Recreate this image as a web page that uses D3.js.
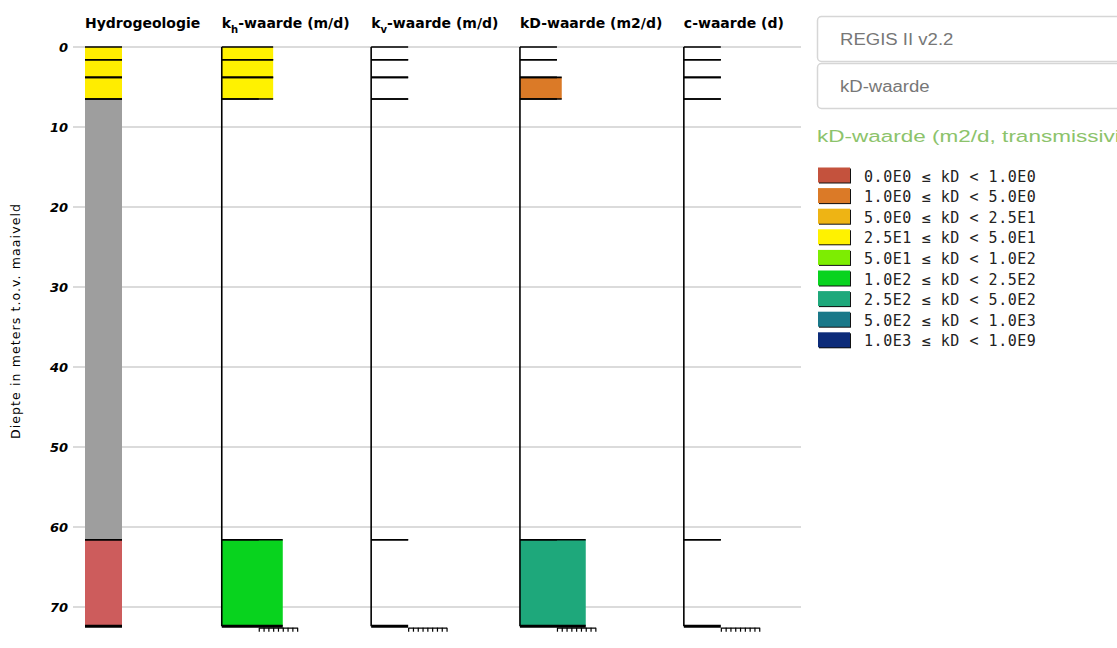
<!DOCTYPE html>
<html>
<head>
<meta charset="utf-8">
<script src="https://cdn.jsdelivr.net/npm/d3@7"></script>
<style>
  body { margin: 0; background: #fff; }
  svg { display: block; }
</style>
</head>
<body>
<svg id="chart" width="1117" height="648"></svg>
<script>
// layers, depth in m below surface
var layerTop = [0, 1.6, 3.8, 6.5, 61.6];
var layerBottom = [1.6, 3.8, 6.5, 61.6, 72.4];
var hydroUnit = ["deklaag", "deklaag", "deklaag", "onbekend", "kleilaag"];

// values per layer (null = geen waarde)
var khValues = [30, 30, 30, null, 150];
var kvValues = [null, null, null, null, null];
var kdValues = [null, null, 3, null, 300];
var cValues = [null, null, null, null, null];

var depthTicks = [0, 10, 20, 30, 40, 50, 60, 70];

// kD legend classes
var classBounds = [0, 1, 5, 25, 50, 100, 250, 500, 1000, 1e9];
var classColors = ["#c4523d", "#db7a27", "#eeb414", "#fff200", "#7ded02",
  "#08d31e", "#1ea87b", "#1a7889", "#0c2b79"];

var svg = d3.select("#chart");

var y = d3.scaleLinear().domain([0, 70]).range([47, 607]);
var bottom = d3.max(layerBottom);

var classOf = d3.scaleThreshold()
  .domain(classBounds.slice(1, -1))
  .range(d3.range(classColors.length));

var barWidth = d3.scaleLinear().domain([0, 8]).range([37, 75.4]);

var hydroColor = d3.scaleOrdinal()
  .domain(["deklaag", "onbekend", "kleilaag"])
  .range(["#ffed00", "#9e9e9e", "#cd5c5c"]);

// grid + depth axis
svg.append("g")
  .selectAll("line")
  .data(depthTicks)
  .enter()
  .append("line")
  .attr("x1", 73)
  .attr("x2", 801)
  .attr("y1", function (d) { return y(d); })
  .attr("y2", function (d) { return y(d); })
  .style("stroke", "#cfcfcf")
  .style("stroke-width", 1.5);

svg.append("g")
  .selectAll("text")
  .data(depthTicks)
  .enter()
  .append("text")
  .attr("x", 68)
  .attr("y", function (d) { return y(d); })
  .attr("dy", "0.36em")
  .style("text-anchor", "end")
  .style("font-family", "DejaVu Sans")
  .style("font-weight", "bold")
  .style("font-style", "italic")
  .style("font-size", "13px")
  .text(function (d) { return d; });

svg.append("text")
  .attr("transform", "translate(20,321) rotate(-90)")
  .style("text-anchor", "middle")
  .style("font-family", "DejaVu Sans")
  .style("font-size", "12.5px")
  .style("letter-spacing", "1.1px")
  .text("Diepte in meters t.o.v. maaiveld");

// columns
var columns = [
  { head: "Hydrogeologie", sub: null, rest: "", hydro: true },
  { head: "k", sub: "h", rest: "-waarde (m/d)", values: khValues },
  { head: "k", sub: "v", rest: "-waarde (m/d)", values: kvValues },
  { head: "kD-waarde (m2/d)", sub: null, rest: "", values: kdValues },
  { head: "c-waarde (d)", sub: null, rest: "", values: cValues }
];

var layers = layerTop.map(function (t, i) {
  return { top: t, bot: layerBottom[i], unit: hydroUnit[i], i: i };
});

var x0 = 85;
columns.forEach(function (col) {
  var g = svg.append("g").attr("transform", "translate(" + x0 + ",0)");

  var head = g.append("text")
    .attr("y", 28)
    .style("font-family", "DejaVu Sans")
    .style("font-weight", "bold")
    .style("font-size", "14px");
  head.append("tspan").text(col.head);
  if (col.sub) {
    head.append("tspan").attr("dy", 5).style("font-size", "10px").text(col.sub);
    head.append("tspan").attr("dy", -5).text(col.rest);
  }

  var w = function (d) {
    if (col.hydro) return 37;
    var v = col.values[d.i];
    return v == null ? barWidth(0) : barWidth(classOf(v));
  };

  g.selectAll("rect")
    .data(layers)
    .enter()
    .append("rect")
    .attr("x", 0)
    .attr("y", function (d) { return y(d.top); })
    .attr("width", w)
    .attr("height", function (d) { return y(d.bot) - y(d.top); })
    .style("fill", function (d) {
      if (col.hydro) return hydroColor(d.unit);
      var v = col.values[d.i];
      return v == null ? "none" : classColors[classOf(v)];
    });

  // layer top and bottom edges
  g.selectAll("line.edge")
    .data(layers.concat(layers.slice(0, -1).map(function (d) {
      return { top: d.bot, i: d.i, unit: d.unit };
    })))
    .enter()
    .append("line")
    .attr("class", "edge")
    .attr("x1", 0)
    .attr("x2", w)
    .attr("y1", function (d) { return y(d.top); })
    .attr("y2", function (d) { return y(d.top); })
    .style("stroke", "#000")
    .style("stroke-width", 1.6);

  var last = layers[layers.length - 1];
  g.append("line")
    .attr("x1", 0)
    .attr("x2", w(last))
    .attr("y1", y(bottom))
    .attr("y2", y(bottom))
    .style("stroke", "#000")
    .style("stroke-width", 3);

  if (!col.hydro) {
    g.append("line")
      .attr("x1", 0)
      .attr("x2", 0)
      .attr("y1", y(0))
      .attr("y2", y(bottom))
      .style("stroke", "#000")
      .style("stroke-width", 1.6);

    var mini = d3.axisBottom(barWidth)
      .tickValues(d3.range(9))
      .tickSize(4)
      .tickSizeOuter(0)
      .tickFormat("");
    g.append("g")
      .attr("transform", "translate(0," + (y(bottom) + 1.5) + ")")
      .call(mini)
      .call(function (a) {
        a.selectAll("path, line").style("stroke", "#000").style("stroke-width", 1.2);
      });
  }

  x0 += head.node().getComputedTextLength() + 21.5;
});

// right panel
var panel = svg.append("g");

var boxes = ["REGIS II v2.2", "kD-waarde"];
panel.selectAll("rect.box")
  .data(boxes)
  .enter()
  .append("rect")
  .attr("class", "box")
  .attr("x", 817.5)
  .attr("y", function (d, i) { return 16.5 + i * 47; })
  .attr("width", 330)
  .attr("height", 45)
  .attr("rx", 4)
  .style("fill", "#fff")
  .style("stroke", "#d6d6d6")
  .style("stroke-width", 1.5);

panel.selectAll("text.box")
  .data(boxes)
  .enter()
  .append("text")
  .attr("class", "box")
  .attr("transform", function (d, i) {
    return "translate(840," + (45 + i * 47) + ") scale(1.16,1)";
  })
  .style("font-family", "Liberation Sans")
  .style("font-size", "16px")
  .style("fill", "#777")
  .text(function (d) { return d; });

panel.append("text")
  .attr("transform", "translate(817,142) scale(1.34,1)")
  .style("font-family", "Liberation Sans")
  .style("font-size", "16.8px")
  .style("fill", "#8cc36b")
  .text("kD-waarde (m2/d, transmissiviteit)");

function fmt(v) {
  var e = v === 0 ? 0 : Math.floor(Math.log10(v));
  var m = v === 0 ? 0 : v / Math.pow(10, e);
  return m.toFixed(1) + "E" + e;
}

var legend = panel.selectAll("g.legend")
  .data(classColors)
  .enter()
  .append("g")
  .attr("class", "legend")
  .attr("transform", function (d, i) {
    return "translate(818," + (167.5 + i * 20.6) + ")";
  });

legend.append("rect")
  .attr("x", 1)
  .attr("y", 1)
  .attr("width", 32)
  .attr("height", 15)
  .style("fill", "#111");
legend.append("rect")
  .attr("width", 32)
  .attr("height", 15)
  .style("fill", function (d) { return d; });
legend.append("text")
  .attr("x", 46)
  .attr("y", 14)
  .style("font-family", "DejaVu Sans Mono")
  .style("font-size", "15px")
  .style("letter-spacing", "0.55px")
  .style("fill", "#222")
  .style("white-space", "pre")
  .text(function (d, i) {
    return fmt(classBounds[i]) + " \u2264 kD < " + fmt(classBounds[i + 1]);
  });
</script>
</body>
</html>
